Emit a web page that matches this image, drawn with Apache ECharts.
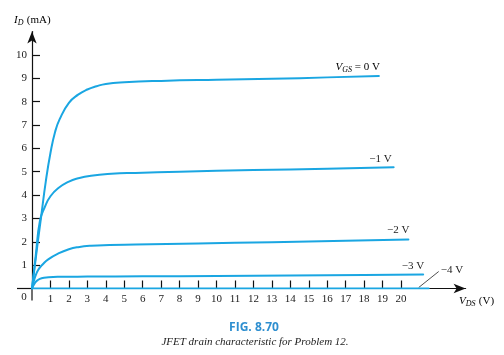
<!DOCTYPE html>
<html><head><meta charset="utf-8">
<script src="https://cdn.jsdelivr.net/npm/echarts@6/dist/echarts.min.js"></script>
<style>html,body{margin:0;padding:0;background:#fff}#c{width:504px;height:355px}</style>
</head><body><div id="c"></div>
<script>
// Data (V_DS in volts, I_D in mA)
const xTicks = [1,2,3,4,5,6,7,8,9,10,11,12,13,14,15,16,17,18,19,20];
const yTicks = [1,2,3,4,5,6,7,8,9,10];
const vgs0 = [[0,0],[0.3,1.9],[0.5,3.1],[0.75,4.6],[1.0,5.8],[1.25,6.7],[1.5,7.25],[2,7.95],[2.5,8.3],[3,8.52],[3.5,8.66],[4,8.76],[5,8.83],[7,8.89],[10,8.94],[13,8.98],[16,9.04],[18.8,9.1]];
const vgs1 = [[0,0],[0.2,1.4],[0.43,2.9],[0.7,3.5],[1.0,3.95],[1.43,4.3],[2.0,4.58],[2.5,4.72],[3.2,4.83],[4.3,4.91],[5.6,4.95],[8,5.0],[12,5.07],[16,5.13],[19.6,5.19]];
const vgs2 = [[0,0],[0.15,0.45],[0.34,0.8],[0.6,1.05],[0.88,1.25],[1.43,1.5],[2.0,1.68],[2.5,1.77],[3.2,1.83],[4.2,1.86],[5.6,1.88],[9,1.93],[13,1.98],[17,2.04],[20.4,2.1]];
const vgs3 = [[0,0],[0.16,0.24],[0.3,0.35],[0.52,0.44],[0.9,0.48],[1.43,0.5],[3,0.51],[6,0.52],[10,0.54],[14,0.56],[18,0.58],[21.2,0.6]];
const vgs4 = [[0,0],[21.5,0]];
const seriesNames = ['V_GS = 0 V','−1 V','−2 V','−3 V','−4 V'];

const chart = echarts.init(document.getElementById('c'));
const color = '#1aa6e2';
const serif = '"Liberation Serif","DejaVu Serif",serif';
function mk(name, d){ return {name:name,type:'line',data:d,smooth:0.5,showSymbol:false,symbol:'none',
  lineStyle:{color:color,width:2,cap:'round',join:'round'},silent:true,animation:false}; }
chart.setOption({
  animation:false,
  grid:{left:32,top:31.6,width:433.6,height:256.9},
  xAxis:{type:'value',min:0,max:23.5,
    axisLine:{lineStyle:{color:'#111',width:1.2},symbol:['none','arrow'],symbolSize:[7,12],symbolOffset:[0,0]},
    axisTick:{show:true,inside:true,length:8,lineStyle:{color:'#111',width:1.2},customValues:xTicks},
    axisLabel:{customValues:xTicks,color:'#222',fontFamily:serif,fontSize:11,margin:5},
    splitLine:{show:false}},
  yAxis:{type:'value',min:0,max:11,
    axisLine:{show:true,lineStyle:{color:'#111',width:1.2},symbol:['none','arrow'],symbolSize:[7,12]},
    axisTick:{show:true,inside:true,length:8,lineStyle:{color:'#111',width:1.2},customValues:yTicks},
    axisLabel:{customValues:yTicks,color:'#222',fontFamily:serif,fontSize:11,margin:5},
    splitLine:{show:false}},
  series:[mk(seriesNames[0],vgs0),mk(seriesNames[1],vgs1),mk(seriesNames[2],vgs2),mk(seriesNames[3],vgs3),mk(seriesNames[4],vgs4)]
});
const P = (x,y)=>chart.convertToPixel({gridIndex:0},[x,y]);
const last = a=>a[a.length-1];
const o = P(0,0);
const e0=P(...last(vgs0)), e1=P(...last(vgs1)), e2=P(...last(vgs2)), e3=P(...last(vgs3)), e4=P(...last(vgs4));
const txt = (x,y,text,extra)=>({type:'text',x:x,y:y,style:Object.assign({text:text,fill:'#222',font:'11px '+serif},extra||{}),silent:true});
const subRich = {i:{fontStyle:'italic',fontFamily:serif,fontSize:11,color:'#222'},
  s:{fontStyle:'italic',fontFamily:serif,fontSize:8,color:'#222',padding:[5,0,0,0]},
  n:{fontFamily:serif,fontSize:11,color:'#222'}};
chart.setOption({graphic:[
  {type:'line',shape:{x1:o[0]-15,y1:o[1],x2:o[0],y2:o[1]},style:{stroke:'#111',lineWidth:1.2},silent:true},
  {type:'line',shape:{x1:o[0],y1:o[1],x2:o[0],y2:o[1]+12},style:{stroke:'#111',lineWidth:1.2},silent:true},
  txt(o[0]-8,o[1]+9,'0',{textAlign:'center',textVerticalAlign:'middle'}),
  {type:'text',x:14,y:20,silent:true,style:{text:'{i|I}{s|D} {n|(mA)}',rich:subRich,textVerticalAlign:'middle'}},
  {type:'text',x:e0[0]+1,y:e0[1]-9,silent:true,style:{text:'{i|V}{s|GS}{n| = 0 V}',rich:subRich,textAlign:'right',textVerticalAlign:'middle'}},
  txt(e1[0]-2,e1[1]-8,'−1 V',{textAlign:'right',textVerticalAlign:'middle'}),
  txt(e2[0]+1,e2[1]-9,'−2 V',{textAlign:'right',textVerticalAlign:'middle'}),
  txt(e3[0]+1,e3[1]-8,'−3 V',{textAlign:'right',textVerticalAlign:'middle'}),
  {type:'line',shape:{x1:e4[0]-10,y1:e4[1]-1,x2:e4[0]+10,y2:e4[1]-17},style:{stroke:'#222',lineWidth:0.8},silent:true},
  txt(e4[0]+12,e4[1]-18,'−4 V',{textAlign:'left',textVerticalAlign:'middle'}),
  {type:'text',x:459,y:301,silent:true,style:{text:'{i|V}{s|DS} {n|(V)}',rich:subRich,textVerticalAlign:'middle'}},
  txt(254,328,'FIG. 8.70',{textAlign:'center',textVerticalAlign:'middle',fill:'#2e8fd0',font:'bold 12px "Open Sans","DejaVu Sans",sans-serif'}),
  txt(255,342,'JFET drain characteristic for Problem 12.',{textAlign:'center',textVerticalAlign:'middle',font:'italic 11px '+serif})
]});
</script></body></html>
